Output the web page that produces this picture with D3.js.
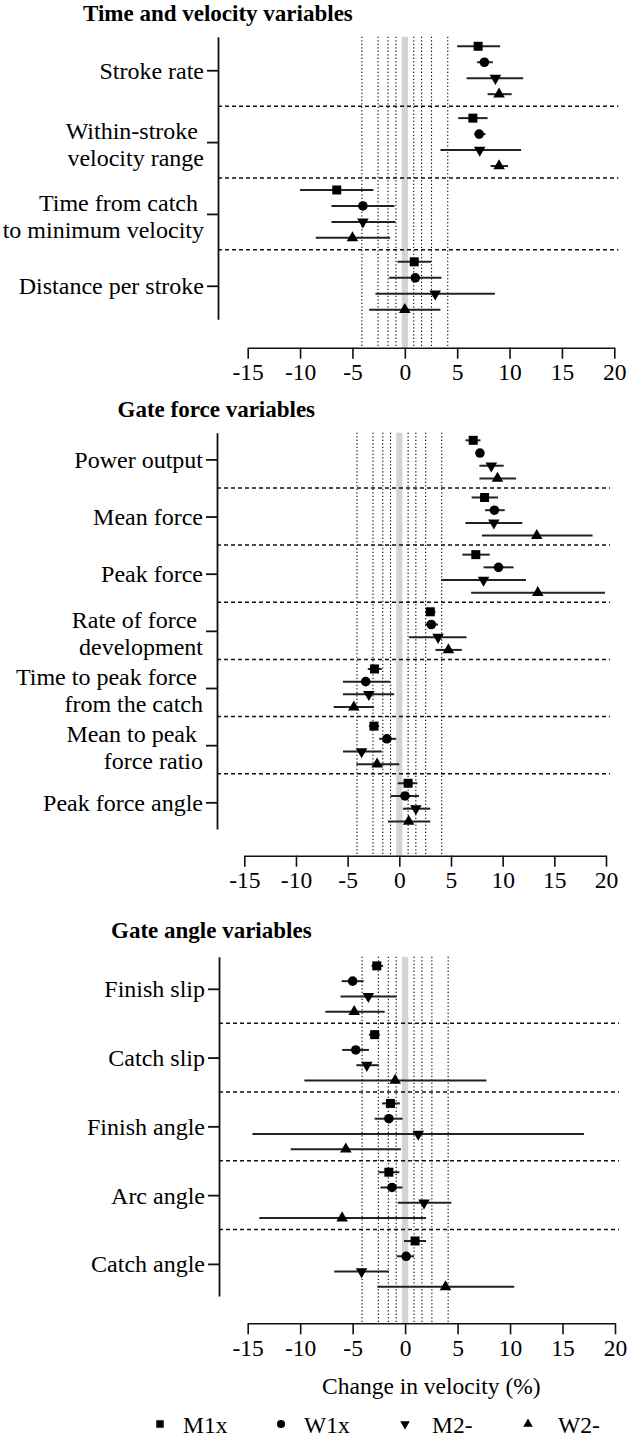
<!DOCTYPE html>
<html>
<head>
<meta charset="utf-8">
<script src="https://cdnjs.cloudflare.com/ajax/libs/d3/7.8.5/d3.min.js"></script>
<style>
    body { margin: 0; background: #fff; }
    svg text { font-family: "Liberation Serif", "Times New Roman", serif; fill: #000; }
</style>
</head>
<body>
<div id="chart"></div>
<script>
const boats = ["M1x", "W1x", "M2-", "W2-"];

// smallest worthwhile change, drawn as dotted lines at +/- value
const swc = [0.85, 1.6, 2.55, 4.1];
const xTicks = [-15, -10, -5, 0, 5, 10, 15, 20];

// each entry: [mean, lower CI, upper CI], % change in velocity
const timeVars = ["Stroke rate", "Within-stroke \nvelocity range", "Time from catch \nto minimum velocity", "Distance per stroke"];
const timeM1x = [[7.0, 5.0, 9.1], [6.5, 5.1, 7.9], [-6.5, -10.0, -3.0], [0.9, -0.7, 2.5]];
const timeW1x = [[7.6, 6.9, 8.4], [7.1, 6.65, 7.7], [-4.0, -7.0, -1.0], [1.0, -1.5, 3.5]];
const timeM2 = [[8.65, 5.9, 11.3], [7.15, 3.4, 11.1], [-4.0, -7.0, -0.9], [2.9, -2.8, 8.6]];
const timeW2 = [[9.0, 7.9, 10.2], [9.0, 8.2, 9.85], [-5.0, -8.5, -1.4], [0.0, -3.4, 3.4]];

const forceVars = ["Power output", "Mean force", "Peak force", "Rate of force \ndevelopment", "Time to peak force \nfrom the catch", "Mean to peak \nforce ratio", "Peak force angle"];
const forceM1x = [[7.15, 6.4, 7.85], [8.25, 7.0, 9.55], [7.4, 6.1, 8.75], [3.0, 2.5, 3.5], [-2.4, -3.05, -1.7], [-2.45, -2.95, -1.95], [0.85, -0.15, 1.75]];
const forceW1x = [[7.8, 7.55, 8.05], [9.2, 8.3, 10.2], [9.6, 8.15, 11.05], [3.1, 2.5, 3.75], [-3.25, -5.45, -0.9], [-1.2, -1.95, -0.3], [0.55, -0.85, 1.9]];
const forceM2 = [[8.9, 7.75, 10.1], [9.15, 6.4, 11.9], [8.15, 4.05, 12.25], [3.75, 0.95, 6.5], [-2.95, -5.45, -0.5], [-3.65, -5.45, -1.7], [1.6, 0.35, 3.0]];
const forceW2 = [[9.5, 7.75, 11.3], [13.3, 8.0, 18.7], [13.4, 6.95, 19.9], [4.75, 3.5, 6.05], [-4.4, -6.35, -2.45], [-2.15, -4.15, 0.0], [0.9, -1.1, 3.0]];

const angleVars = ["Finish slip", "Catch slip", "Finish angle", "Arc angle", "Catch angle"];
const angleM1x = [[-2.7, -3.2, -2.1], [-2.9, -3.45, -2.4], [-1.4, -2.2, -0.5], [-1.55, -2.55, -0.55], [0.95, -0.1, 2.0]];
const angleW1x = [[-5.0, -6.05, -3.95], [-4.7, -6.0, -3.45], [-1.55, -2.9, -0.25], [-1.25, -2.35, -0.25], [0.1, -0.8, 0.85]];
const angleM2 = [[-3.5, -6.15, -0.8], [-3.65, -4.65, -2.5], [1.25, -14.55, 17.05], [1.8, -0.7, 4.4], [-4.15, -6.75, -1.55]];
const angleW2 = [[-4.85, -7.6, -1.95], [-0.95, -9.6, 7.75], [-5.65, -10.9, -0.4], [-6.0, -13.9, 2.0], [3.85, -2.65, 10.4]];

const width = 630, height = 1447;

const svg = d3.select("#chart")
    .append("svg")
    .attr("width", width)
    .attr("height", height);

const symbols = [
    d3.symbol().type(d3.symbolSquare).size(81),
    d3.symbol().type(d3.symbolCircle).size(72),
    d3.symbol().type(d3.symbolTriangle).size(58),   // rotated -> pointing down
    d3.symbol().type(d3.symbolTriangle).size(58)
];
const rotations = [0, 0, 180, 0];

const panels = [
    {title: "Time and velocity variables", titleX: 83, titleY: 20.5, vars: timeVars,
        series: [timeM1x, timeW1x, timeM2, timeW2],
        x0: 247.7, x1: 614.3, yAxisX: 218, top: 36.7, bottom: 319.3, axisY: 347.7},
    {title: "Gate force variables", titleX: 117.5, titleY: 417, vars: forceVars,
        series: [forceM1x, forceW1x, forceM2, forceW2],
        x0: 244.3, x1: 606, yAxisX: 217, top: 432.7, bottom: 829, axisY: 855.7},
    {title: "Gate angle variables", titleX: 111, titleY: 938, vars: angleVars,
        series: [angleM1x, angleW1x, angleM2, angleW2],
        x0: 247.7, x1: 615, yAxisX: 219, top: 956.7, bottom: 1296, axisY: 1323.3}
];

panels.forEach(function (p) {
    const n = p.vars.length;
    const g = svg.append("g");

    var x = d3.scaleLinear().domain([-15, 20]).range([p.x0, p.x1]);
    // rows: each variable gets 4 rows plus half a row of gap
    var y = d3.scaleLinear().domain([-0.6, (n - 1) * 4.5 + 3.6]).range([p.top, p.bottom]);
    const centers = p.vars.map((v, i) => i * 4.5 + 1.5);

    // shaded zero band
    g.append("rect")
        .attr("x", x(-0.3))
        .attr("y", p.top)
        .attr("width", x(0.3) - x(-0.3))
        .attr("height", p.axisY - p.top)
        .attr("fill", "#d4d4d4");

    // dotted swc lines
    const swcAll = swc.map(d => -d).concat(swc);
    g.selectAll(".swc")
        .data(swcAll)
        .enter()
        .append("line")
        .attr("x1", d => x(d))
        .attr("x2", d => x(d))
        .attr("y1", p.top)
        .attr("y2", p.axisY)
        .attr("stroke", "#000")
        .attr("stroke-width", 1.1)
        .attr("stroke-dasharray", "1.3,2.2");

    // dashed separators between variables
    g.selectAll(".sep")
        .data(d3.range(n - 1))
        .enter()
        .append("line")
        .attr("x1", p.yAxisX)
        .attr("x2", x(20) + 4)
        .attr("y1", d => y(d * 4.5 + 3.75))
        .attr("y2", d => y(d * 4.5 + 3.75))
        .attr("stroke", "#111")
        .attr("stroke-width", 1.5)
        .attr("stroke-dasharray", "4,3");

    // error bars + markers
    p.series.forEach(function (s, j) {
        const rows = s.map((d, i) => ({row: i * 4.5 + j, mean: d[0], lo: d[1], hi: d[2]}));

        g.selectAll(".ci" + j)
            .data(rows)
            .enter()
            .append("line")
            .attr("x1", d => x(d.lo))
            .attr("x2", d => x(d.hi))
            .attr("y1", d => y(d.row))
            .attr("y2", d => y(d.row))
            .attr("stroke", "#222")
            .attr("stroke-width", 2);

        g.selectAll(".pt" + j)
            .data(rows)
            .enter()
            .append("path")
            .attr("d", symbols[j])
            .attr("transform", d => "translate(" + x(d.mean) + "," + y(d.row) + ") rotate(" + rotations[j] + ")")
            .attr("fill", "#000");
    });

    // y axis
    const yAxis = g.append("g")
        .attr("transform", "translate(" + p.yAxisX + ",0)")
        .call(d3.axisLeft(y).tickValues(centers).tickFormat("").tickSize(11).tickSizeOuter(0));
    yAxis.selectAll("path, line").attr("stroke", "#111").attr("stroke-width", 1.8);

    // variable labels (some on two lines)
    p.vars.forEach(function (v, i) {
        const lines = v.split("\n");
        const cy = y(centers[i]);
        const t = g.append("text")
            .attr("text-anchor", "end")
            .attr("font-size", "24px")
            .style("white-space", "pre");
        if (lines.length === 1) {
            t.append("tspan").attr("x", p.yAxisX - 14).attr("y", cy + 8.5).text(lines[0]);
        } else {
            t.append("tspan").attr("x", p.yAxisX - 14).attr("y", cy - 3).text(lines[0]);
            t.append("tspan").attr("x", p.yAxisX - 14).attr("y", cy + 24).text(lines[1]);
        }
    });

    // x axis, plain hyphen minus like the original
    const xAxis = g.append("g")
        .attr("transform", "translate(0," + p.axisY + ")")
        .call(d3.axisBottom(x).tickValues(xTicks).tickFormat(d => String(d))
            .tickSize(11).tickSizeOuter(0).tickPadding(5));
    xAxis.selectAll("path, line").attr("stroke", "#111").attr("stroke-width", 1.6);
    xAxis.selectAll("text")
        .attr("font-size", "23.5px")
        .attr("fill", "#000");

    // panel title
    g.append("text")
        .attr("x", p.titleX)
        .attr("y", p.titleY)
        .attr("font-size", "23px")
        .attr("font-weight", "bold")
        .text(p.title);
});

// axis title under last panel
const last = panels[2];
svg.append("text")
    .attr("x", (last.x0 + last.x1) / 2)
    .attr("y", 1394)
    .attr("text-anchor", "middle")
    .attr("font-size", "23.5px")
    .text("Change in velocity (%)");

// legend
const legendX = [160, 281, 405, 528];
const legendTextX = [183, 304, 432, 558];
const legendSym = [
    d3.symbol().type(d3.symbolSquare).size(56),
    d3.symbol().type(d3.symbolCircle).size(52),
    d3.symbol().type(d3.symbolTriangle).size(40),
    d3.symbol().type(d3.symbolTriangle).size(40)
];
const legend = svg.append("g");
legend.selectAll("path")
    .data(boats)
    .enter()
    .append("path")
    .attr("d", (d, i) => legendSym[i]())
    .attr("transform", (d, i) => "translate(" + legendX[i] + ",1424) rotate(" + rotations[i] + ")")
    .attr("fill", "#000");
legend.selectAll("text")
    .data(boats)
    .enter()
    .append("text")
    .attr("x", (d, i) => legendTextX[i])
    .attr("y", 1433)
    .attr("font-size", "23.5px")
    .text(d => d);
</script>
</body>
</html>
